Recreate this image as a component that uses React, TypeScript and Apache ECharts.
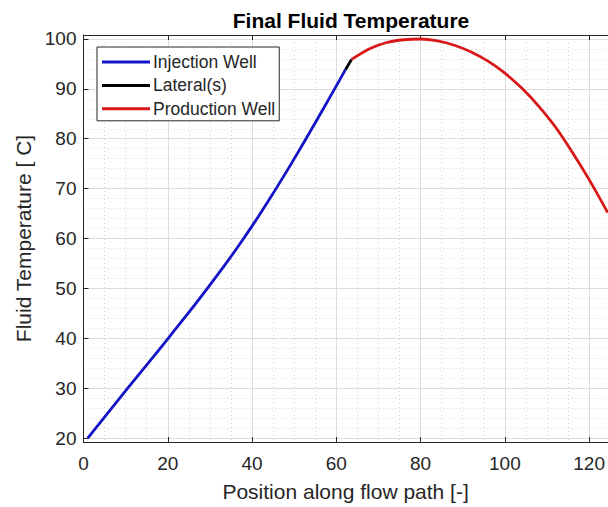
import React, { useEffect, useRef } from "react";
import * as echarts from "echarts";

// Injection well (blue)
const injX = [1, 10.5, 20.1, 29.4, 38.0, 45.7, 52.8, 59.6, 62.2];
const injY = [20, 30, 40, 50, 60, 70, 80, 90, 93.9];
// Lateral(s) (black)
const latX = [62.2, 63.6];
const latY = [93.9, 95.9];
// Production well (red)
const prodX = [63.6, 68, 72, 76, 80, 84, 88, 92, 96, 100, 104, 108, 112, 116, 120, 124.4];
const prodY = [95.9, 98.1, 99.3, 99.85, 100.0, 99.6, 98.75, 97.4, 95.55, 93.15, 90.15, 86.55, 82.35, 77.3, 71.8, 65.2];

const xTicks = [0, 20, 40, 60, 80, 100, 120];
const yTicks = [20, 30, 40, 50, 60, 70, 80, 90, 100];
const xMinor: number[] = [];
for (let v = 5; v <= 124; v += 5) if (v % 20 !== 0) xMinor.push(v);
const yMinor: number[] = [];
for (let v = 22; v < 100; v += 2) if (v % 10 !== 0) yMinor.push(v);

const X_MIN = 0;
const X_MAX = 124.4;
const Y_MIN = 19.2;
const Y_MAX = 100.8;

const zip = (xs: number[], ys: number[]) => xs.map((x, i) => [x, ys[i]]);

const FONT = "Liberation Sans, Arial, Helvetica, sans-serif";
const TXT = "#262626";

export default function App() {
  const ref = useRef<HTMLDivElement>(null);
  useEffect(() => {
    if (!ref.current) return;
    const chart = echarts.init(ref.current, null, { renderer: "svg" });
    const minorSplit = { show: true, lineStyle: { color: "#d4d4d4", type: [1, 3] as any, width: 1 } };
    chart.setOption({
      animation: false,
      backgroundColor: "#ffffff",
      textStyle: { fontFamily: FONT },
      title: {
        text: "Final Fluid Temperature",
        left: 346,
        textAlign: "center",
        top: 5,
        textStyle: { fontFamily: FONT, fontWeight: "bold", fontSize: 21, color: "#000" },
      },
      legend: {
        orient: "vertical",
        left: 97,
        top: 47,
        icon: "rect",
        itemWidth: 48,
        itemHeight: 3,
        itemGap: 3.4,
        padding: [5, 4, 2, 5],
        borderColor: "#262626",
        borderWidth: 1,
        backgroundColor: "#ffffff",
        textStyle: { fontFamily: FONT, fontSize: 17.5, color: TXT, lineHeight: 20, padding: [0, 0, 0, -2] },
        data: ["Injection Well", "Lateral(s)", "Production Well"],
      },
      grid: { left: 83.5, right: 0, top: 35, bottom: 63.7, containLabel: false },
      xAxis: [
        {
          type: "value",
          position: "bottom",
          min: X_MIN,
          max: X_MAX,
          name: "Position along flow path [-]",
          nameLocation: "middle",
          nameGap: 39,
          nameTextStyle: { fontFamily: FONT, fontSize: 21, color: TXT },
          axisLine: { show: true, lineStyle: { color: TXT, width: 1 } },
          axisTick: { show: true, inside: true, length: 5, customValues: xTicks, lineStyle: { color: TXT } },
          axisLabel: { customValues: xTicks, margin: 12, fontFamily: FONT, fontSize: 19, color: TXT },
          splitLine: { show: true, lineStyle: { color: "#dcdcdc", width: 1 } },
        },
        {
          type: "value",
          position: "top",
          min: X_MIN,
          max: X_MAX,
          axisLine: { show: true, lineStyle: { color: TXT, width: 1 } },
          axisTick: { show: true, inside: true, length: 5, customValues: xTicks, lineStyle: { color: TXT } },
          axisLabel: { show: false },
          splitLine: { show: false },
        },
        {
          type: "value",
          position: "bottom",
          min: X_MIN,
          max: X_MAX,
          axisLine: { show: false },
          axisTick: { show: false, customValues: xMinor },
          axisLabel: { show: false },
          splitLine: minorSplit,
        },
      ],
      yAxis: [
        {
          type: "value",
          position: "left",
          min: Y_MIN,
          max: Y_MAX,
          name: "Fluid Temperature [ C]",
          nameLocation: "middle",
          nameGap: 45,
          nameTextStyle: { fontFamily: FONT, fontSize: 21, color: TXT },
          axisLine: { show: true, lineStyle: { color: TXT, width: 1 } },
          axisTick: { show: true, inside: true, length: 5, customValues: yTicks, lineStyle: { color: TXT } },
          axisLabel: { customValues: yTicks, margin: 7, fontFamily: FONT, fontSize: 19, color: TXT },
          splitLine: { show: true, lineStyle: { color: "#dcdcdc", width: 1 } },
        },
        {
          type: "value",
          position: "left",
          min: Y_MIN,
          max: Y_MAX,
          axisLine: { show: false },
          axisTick: { show: false, customValues: yMinor },
          axisLabel: { show: false },
          splitLine: minorSplit,
        },
      ],
      series: [
        {
          name: "Injection Well",
          type: "line",
          data: zip(injX, injY),
          smooth: 0.5,
          showSymbol: false,
          symbol: "none",
          lineStyle: { color: "#1414c8", width: 2.8 },
          itemStyle: { color: "#1414c8" },
          z: 5,
        },
        {
          name: "Lateral(s)",
          type: "line",
          data: zip(latX, latY),
          showSymbol: false,
          symbol: "none",
          lineStyle: { color: "#000000", width: 2.8 },
          itemStyle: { color: "#000000" },
          z: 5,
        },
        {
          name: "Production Well",
          type: "line",
          data: zip(prodX, prodY),
          smooth: 0.3,
          showSymbol: false,
          symbol: "none",
          lineStyle: { color: "#d81818", width: 2.8 },
          itemStyle: { color: "#d81818" },
          z: 5,
        },
      ],
    });
    return () => chart.dispose();
  }, []);
  return (
    <div
      ref={ref}
      style={{ position: "fixed", left: 0, top: 0, width: 608, height: 507, background: "#fff" }}
    />
  );
}
